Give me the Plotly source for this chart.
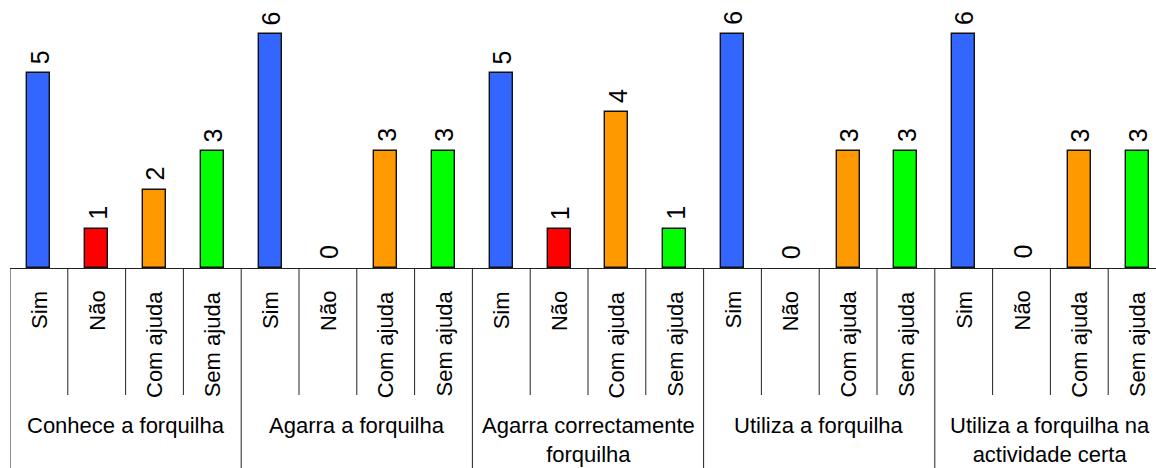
import plotly.graph_objects as go

# Survey answers per question (5 questions x 4 answer types)
groups = [
    "Conhece a forquilha",
    "Agarra a forquilha",
    "Agarra correctamente<br>forquilha",
    "Utiliza a forquilha",
    "Utiliza a forquilha na<br>actividade certa",
]
answers = ["Sim", "Não", "Com ajuda", "Sem ajuda"]
sim = [5, 6, 5, 6, 6]
nao = [1, 0, 1, 0, 0]
com_ajuda = [2, 3, 4, 3, 3]
sem_ajuda = [3, 3, 1, 3, 3]
colors = ["#3366FF", "#FF0000", "#FF9900", "#00FF00"]

FONT = "Liberation Sans, Arial, sans-serif"
FS = 22
FS_VAL = 25

series = [sim, nao, com_ajuda, sem_ajuda]
n_ans = len(answers)
n_grp = len(groups)

fig = go.Figure()

# one trace per answer type, positioned at flat category index
for a, (vals, col) in enumerate(zip(series, colors)):
    xs = [g * n_ans + a for g in range(n_grp)]
    fig.add_trace(go.Bar(
        x=xs, y=vals, width=0.4,
        marker=dict(color=col, line=dict(
            color="#111111", width=[1.4 if v > 0 else 0 for v in vals])),
        showlegend=False, hoverinfo="skip",
    ))
    # value labels above bars
    for x, v in zip(xs, vals):
        fig.add_annotation(
            x=x, y=v, xref="x", yref="y", text=str(v), showarrow=False,
            textangle=-90, xanchor="center", yanchor="bottom", yshift=7,
            xshift=1,
            font=dict(family=FONT, size=FS_VAL, color="#000000"),
        )

# category labels under the axis
for g in range(n_grp):
    for a, name in enumerate(answers):
        fig.add_annotation(
            x=g * n_ans + a, y=0, xref="x", yref="paper", text=name,
            showarrow=False, textangle=-90, xanchor="center", yanchor="top",
            yshift=-21, font=dict(family=FONT, size=FS, color="#000000"),
        )
    fig.add_annotation(
        x=g * n_ans + (n_ans - 1) / 2, y=0, xref="x", yref="paper",
        text=groups[g], showarrow=False, xanchor="center", yanchor="top",
        yshift=-143, font=dict(family=FONT, size=FS, color="#000000"),
    )

# divider lines between categories and between groups
plot_h = 268
inner_bottom = -(395 - plot_h) / plot_h
outer_bottom = -(468 - plot_h) / plot_h
for k in range(n_grp * n_ans):
    bx = k - 0.5
    is_group = (k % n_ans == 0)
    fig.add_shape(
        type="line", xref="x", yref="paper", x0=bx, x1=bx, y0=0,
        y1=outer_bottom if is_group else inner_bottom,
        line=dict(color="#222222", width=1),
    )

fig.update_layout(
    width=1156, height=468,
    margin=dict(l=10, r=0, t=0, b=468 - plot_h),
    plot_bgcolor="white", paper_bgcolor="white",
    bargap=0,
)
fig.update_xaxes(
    range=[-0.5, -0.5 + 1146 / 57.8], showgrid=False, zeroline=False,
    showticklabels=False, ticks="", showline=True, linecolor="#222222",
    linewidth=1,
)
fig.update_yaxes(
    range=[0, plot_h / 38.95], showgrid=False, zeroline=False,
    showticklabels=False, ticks="", showline=False,
)

fig.write_html("out.html")
